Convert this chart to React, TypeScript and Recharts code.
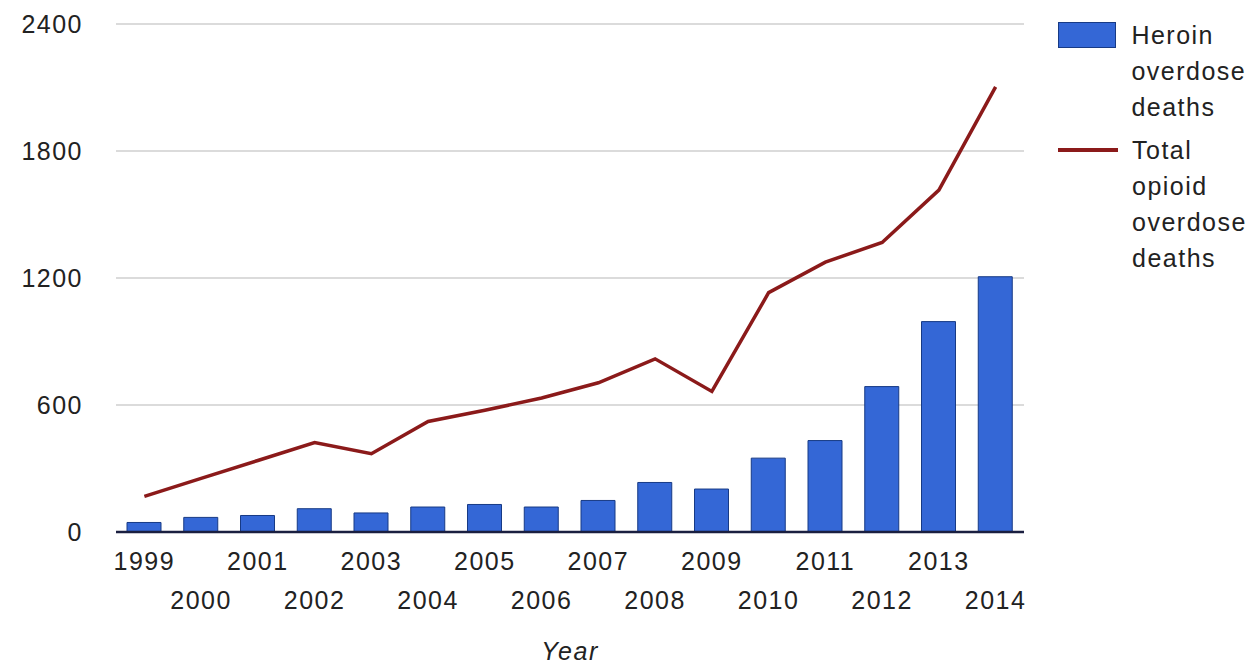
import React from 'react';
import { ComposedChart, Bar, Line, XAxis, YAxis, CartesianGrid, Legend } from 'recharts';

const years = ['1999', '2000', '2001', '2002', '2003', '2004', '2005', '2006', '2007', '2008', '2009', '2010', '2011', '2012', '2013', '2014'];
const heroinDeaths = [45, 69, 78, 110, 90, 118, 130, 118, 149, 234, 203, 349, 432, 687, 994, 1206];
const totalOpioidDeaths = [168, 253, 338, 423, 370, 522, 575, 633, 705, 818, 664, 1131, 1275, 1368, 1615, 2103];
const yTicks = [0, 600, 1200, 1800, 2400];

const FONT = '"Liberation Sans", Arial, sans-serif';
const TEXT = '#222';
const LEGEND_W = 202;

const data = years.map((year, i) => ({
  year,
  heroin: heroinDeaths[i],
  total: totalOpioidDeaths[i],
}));

// two staggered rows of year labels, like the original
const YearTick = (props: any) => {
  const { x, y, payload, index } = props;
  const row = index % 2 === 0 ? 29 : 68;
  return (
    <text x={x} y={y + row} dy="0.355em" textAnchor="middle" fill={TEXT}
      style={{ fontFamily: FONT, fontSize: 25, letterSpacing: 1.5 }}>
      {payload.value}
    </text>
  );
};

const renderLegend = (props: any) => {
  const { payload } = props;
  return (
    <div style={{ fontFamily: FONT, fontSize: 25, letterSpacing: 1.5, color: TEXT, lineHeight: '36px' }}>
      {payload.map((entry: any, i: number) => (
        <div key={i} style={{ display: 'flex', alignItems: 'flex-start', marginBottom: 7 }}>
          <div style={{ width: 60, height: 36, display: 'flex', alignItems: 'center', marginRight: 14 }}>
            {entry.type === 'rect' ? (
              <div style={{ width: 58, height: 26, background: '#3467d6', border: '1px solid #173a85', boxSizing: 'border-box' }} />
            ) : (
              <div style={{ width: 60, height: 3.5, background: '#8b1a1a' }} />
            )}
          </div>
          <div style={{ width: 130 }}>{entry.value}</div>
        </div>
      ))}
    </div>
  );
};

export default function App() {
  return (
    <div style={{ position: 'absolute', left: 0, top: 0, background: '#fff' }}>
      <ComposedChart width={1260} height={664} data={data}
        margin={{ top: 24, right: 236 - LEGEND_W, bottom: 0, left: 0 }}>
        <CartesianGrid vertical={false} stroke="#cfcfcf" strokeWidth={1.5} />
        <XAxis
          dataKey="year"
          height={132}
          interval={0}
          tickLine={false}
          tickSize={0}
          tickMargin={0}
          stroke="#1a1f40"
          strokeWidth={2.5}
          tick={<YearTick />}
          label={{
            value: 'Year', position: 'insideBottom', offset: 4,
            style: { fontFamily: FONT, fontSize: 25, fontStyle: 'italic', fill: TEXT, letterSpacing: 1.5 },
          }}
        />
        <YAxis
          width={116}
          domain={[0, 2400]}
          ticks={yTicks}
          axisLine={false}
          tickLine={false}
          tickSize={0}
          tickMargin={33}
          tick={{ fontFamily: FONT, fontSize: 25, fill: TEXT, letterSpacing: 1.5 }}
        />
        <Legend
          layout="vertical"
          align="right"
          verticalAlign="top"
          content={renderLegend}
          wrapperStyle={{ left: 1058, top: 17, width: LEGEND_W }}
        />
        <Bar dataKey="heroin" name="Heroin overdose deaths" legendType="rect" barSize={34}
          fill="#3467d6" stroke="#173a85" strokeWidth={1} isAnimationActive={false} />
        <Line dataKey="total" name="Total opioid overdose deaths" type="linear" stroke="#8b1a1a"
          strokeWidth={3.5} dot={false} activeDot={false} legendType="line" isAnimationActive={false} />
      </ComposedChart>
    </div>
  );
}
